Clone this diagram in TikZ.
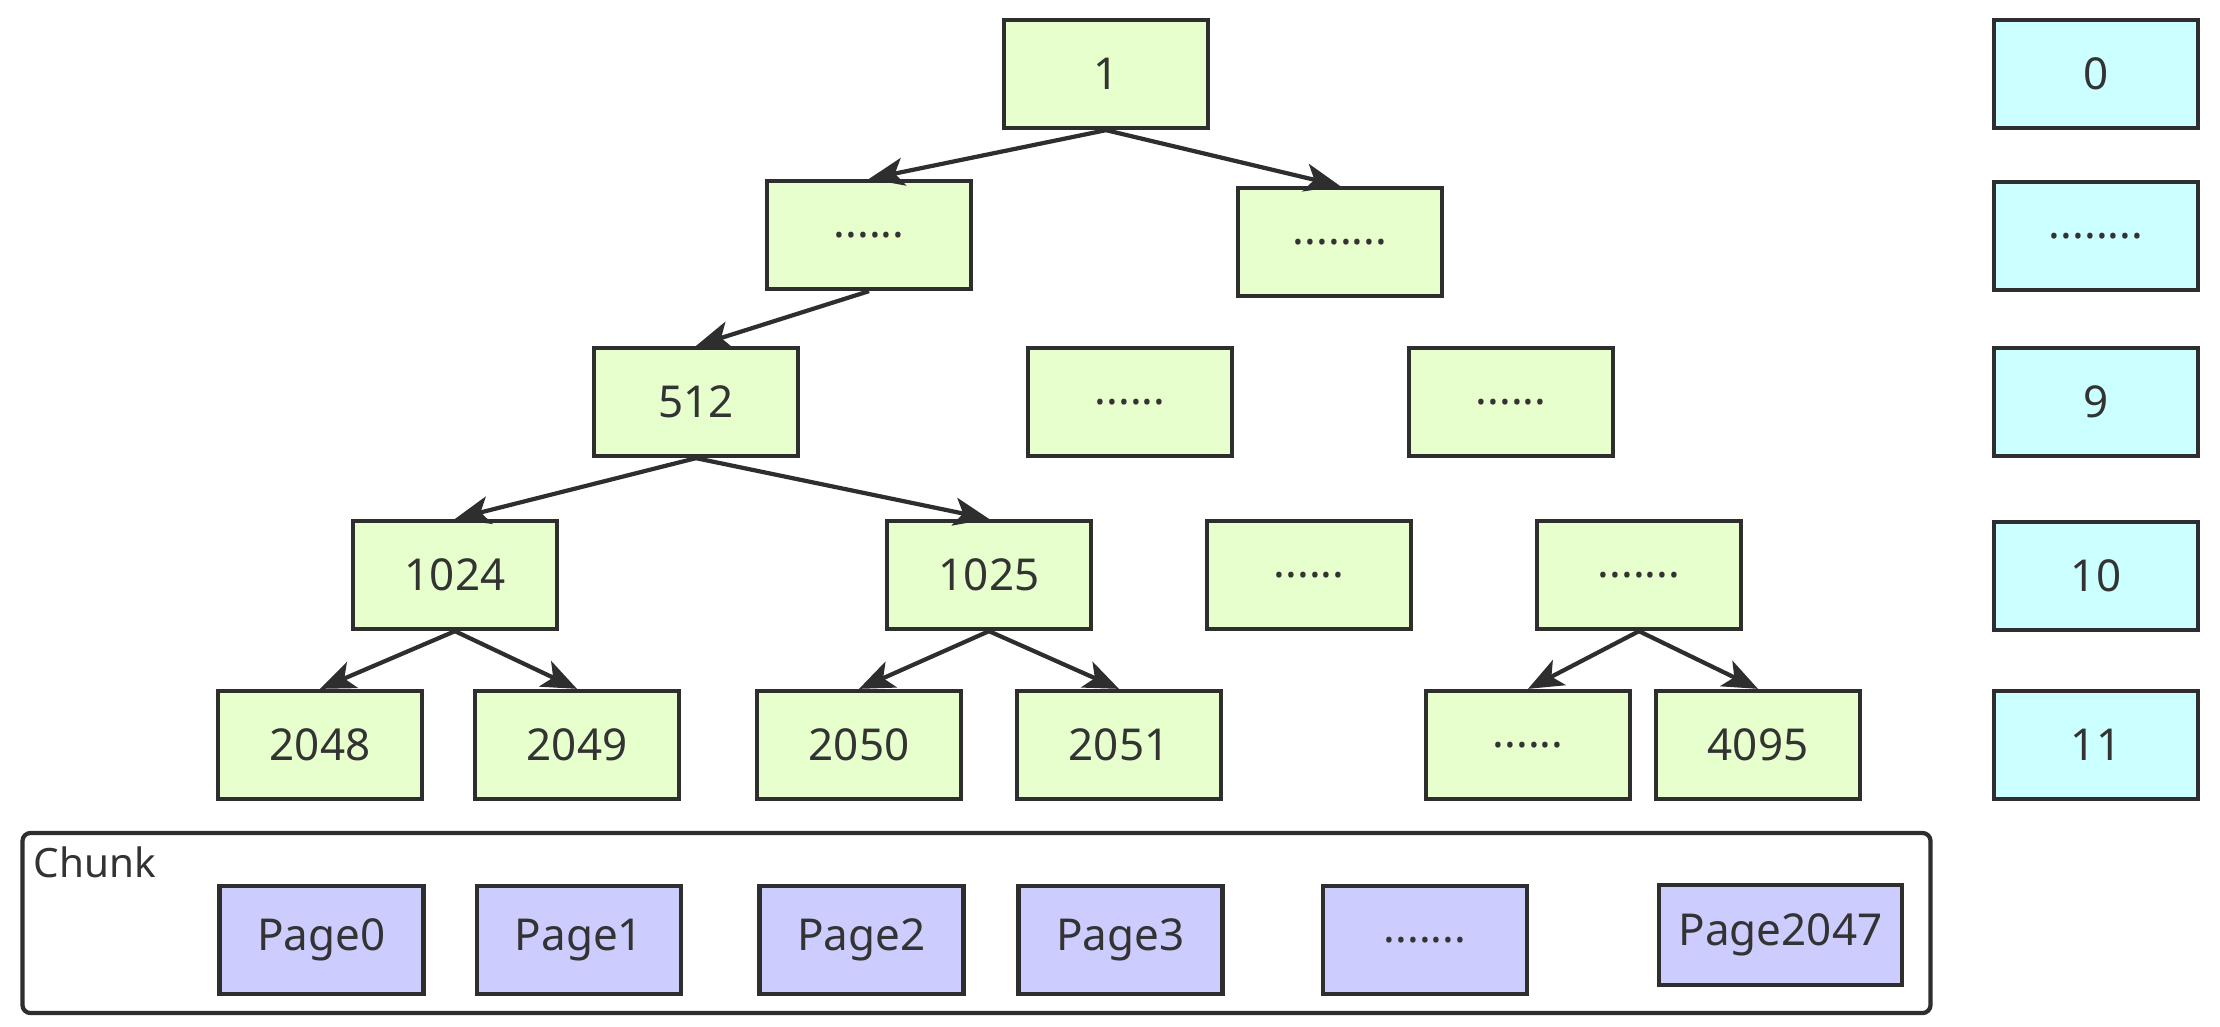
\documentclass[tikz,border=0pt]{standalone}
\usepackage{fontspec}
\setmainfont{Noto Sans}
\usetikzlibrary{arrows.meta}
\definecolor{gfill}{HTML}{E6FFCC}
\definecolor{bfill}{HTML}{CCFFFF}
\definecolor{pfill}{HTML}{CCCCFF}
\definecolor{edge}{HTML}{2E2E2E}
\definecolor{txt}{HTML}{333333}
\begin{document}
\begin{tikzpicture}[x=0.01cm,y=-0.01cm,
  box/.style={draw=edge,line width=1.2pt,minimum width=2.04cm,minimum height=1.08cm,inner sep=0pt,text=txt,font=\fontsize{12.5pt}{14pt}\selectfont},
  gbox/.style={box,fill=gfill},
  bbox/.style={box,fill=bfill},
  pbox/.style={box,fill=pfill},
  arr/.style={draw=edge,line width=1.2pt,-{Stealth[length=10pt,width=8pt,inset=2.5pt]}}]
\useasboundingbox (0,0) rectangle (2220,1026);
% chunk container
\node[draw=edge,line width=1.2pt,rounded corners=2.3pt,minimum width=19.07cm,minimum height=1.80cm,inner sep=0pt] (chunk) at (976.5,923) {};
\node[anchor=base west,inner sep=0pt,text=txt,font=\fontsize{11.5pt}{13pt}\selectfont] (chunklbl) at (33,877) {Chunk};
% tree
\node[gbox] (n1) at (1106,74) {1};
\node[gbox] (a1) at (869,235) {......};
\node[gbox] (a2) at (1340,242) {........};
\node[gbox] (n512) at (696,402) {512};
\node[gbox] (b2) at (1130,402) {......};
\node[gbox] (b3) at (1511,402) {......};
\node[gbox] (n1024) at (455,575) {1024};
\node[gbox] (n1025) at (989,575) {1025};
\node[gbox] (c3) at (1309,575) {......};
\node[gbox] (c4) at (1639,575) {.......};
\node[gbox] (n2048) at (320,745) {2048};
\node[gbox] (n2049) at (577,745) {2049};
\node[gbox] (n2050) at (859,745) {2050};
\node[gbox] (n2051) at (1119,745) {2051};
\node[gbox] (d5) at (1528,745) {......};
\node[gbox] (n4095) at (1758,745) {4095};
% levels
\node[bbox] (l0) at (2096,74) {0};
\node[bbox] (l1) at (2096,236) {........};
\node[bbox] (l9) at (2096,402) {9};
\node[bbox] (l10) at (2096,576) {10};
\node[bbox] (l11) at (2096,745) {11};
% pages
\node[pbox] (p0) at (321.5,940) {Page0};
\node[pbox] (p1) at (579,940) {Page1};
\node[pbox] (p2) at (861.5,940) {Page2};
\node[pbox] (p3) at (1120.5,940) {Page3};
\node[pbox] (pd) at (1425,940) {.......};
\node[pbox,minimum width=2.43cm,minimum height=1.0cm] (p2047) at (1780.5,935) {Page2047};
% edges
\draw[arr] (n1.south) -- (a1.north);
\draw[arr] (n1.south) -- (a2.north);
\draw[arr] (a1.south) -- (n512.north);
\draw[arr] (n512.south) -- (n1024.north);
\draw[arr] (n512.south) -- (n1025.north);
\draw[arr] (n1024.south) -- (n2048.north);
\draw[arr] (n1024.south) -- (n2049.north);
\draw[arr] (n1025.south) -- (n2050.north);
\draw[arr] (n1025.south) -- (n2051.north);
\draw[arr] (c4.south) -- (d5.north);
\draw[arr] (c4.south) -- (n4095.north);
\end{tikzpicture}
\end{document}
